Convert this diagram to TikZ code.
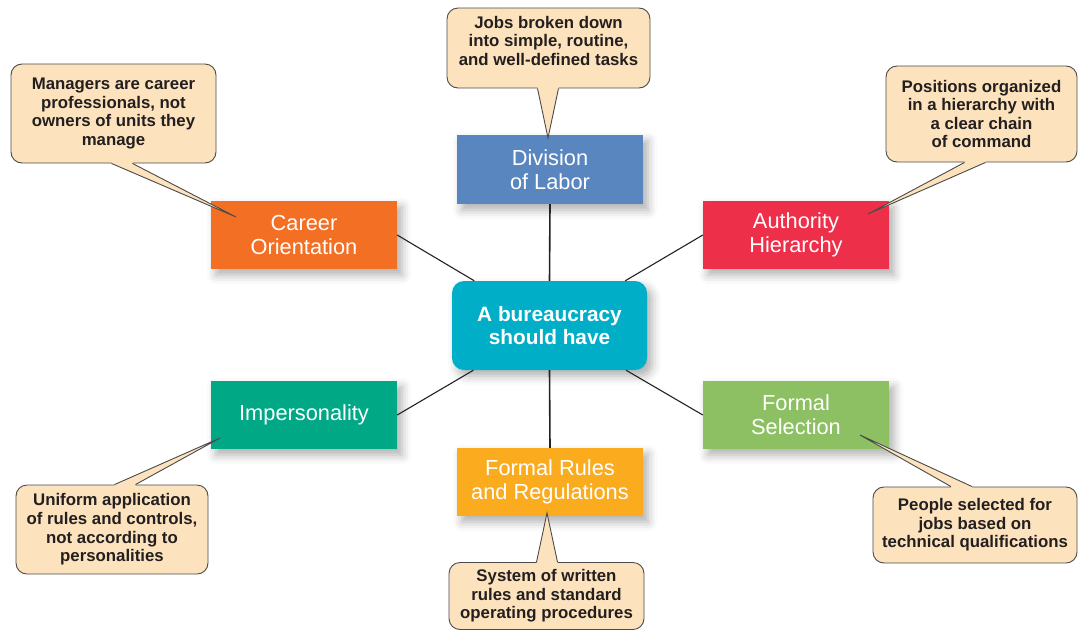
\documentclass[tikz,border=0pt]{standalone}
\usepackage{fontspec}
\setmainfont{Liberation Sans}
\usetikzlibrary{calc,shadows.blur}
\definecolor{cDiv}{HTML}{5A86BF}
\definecolor{cCar}{HTML}{F26F23}
\definecolor{cAut}{HTML}{EE2F4A}
\definecolor{cCen}{HTML}{00AEC7}
\definecolor{cImp}{HTML}{00A886}
\definecolor{cRul}{HTML}{FBAB1E}
\definecolor{cSel}{HTML}{8CC063}
\definecolor{callfill}{HTML}{FDE3BD}
\definecolor{callline}{HTML}{4A4A4A}
\definecolor{calltext}{HTML}{231F20}
\definecolor{linkc}{HTML}{222222}
\newcommand\ptrbottom[3]{% callout node, x offset, tip
  \fill[callfill] ($(#1.south)+(#2-10.5,0)$) -- (#3) -- ($(#1.south)+(#2+10.5,0)$) -- ($(#1.south)+(#2+10.5,-2)$) -- ($(#1.south)+(#2-10.5,-2)$) -- cycle;
  \draw[callline,line width=0.9pt,line join=miter] ($(#1.south)+(#2-10.5,0)$) -- (#3) -- ($(#1.south)+(#2+10.5,0)$);}
\newcommand\ptrtop[3]{%
  \fill[callfill] ($(#1.north)+(#2-10.5,0)$) -- (#3) -- ($(#1.north)+(#2+10.5,0)$) -- ($(#1.north)+(#2+10.5,2)$) -- ($(#1.north)+(#2-10.5,2)$) -- cycle;
  \draw[callline,line width=0.9pt,line join=miter] ($(#1.north)+(#2-10.5,0)$) -- (#3) -- ($(#1.north)+(#2+10.5,0)$);}
\begin{document}
\begin{tikzpicture}[x=1pt,y=-1pt,
  boxstyle/.style={minimum width=186pt, minimum height=68pt, inner sep=0pt, text=white, align=center,
    font=\fontsize{21.8}{24}\selectfont,
    blur shadow={shadow xshift=5pt, shadow yshift=-6pt, shadow blur radius=9pt, shadow opacity=32}},
  callout/.style={draw=callline, line width=0.9pt, fill=callfill, rounded corners=11pt, inner sep=0pt,
    text=calltext, align=center, font=\bfseries\fontsize{16.8}{18.6}\selectfont},
  link/.style={draw=linkc, line width=1.1pt}]
\useasboundingbox (0,0) rectangle (1081,630);
% main boxes
\node[boxstyle, fill=cDiv, minimum height=69pt] (div) at (550,169.5) {Division\\of Labor};
\node[boxstyle, fill=cCar] (car) at (304,235) {Career\\Orientation};
\node[boxstyle, fill=cAut] (aut) at (796,235) {Authority\\Hierarchy};
\node[boxstyle, fill=cImp] (imp) at (304,415) {Impersonality};
\node[boxstyle, fill=cRul] (rul) at (550,482) {Formal Rules\\and Regulations};
\node[boxstyle, fill=cSel] (sel) at (796,415) {Formal\\Selection};
\node[boxstyle, fill=cCen, minimum width=195pt, minimum height=89pt, rounded corners=12pt,
  font=\bfseries\fontsize{20.8}{23}\selectfont] (cen) at (549.5,325.5) {A bureaucracy\\should have};
% connectors
\draw[link, line width=1.6pt] (cen.north) -- (div.south);
\draw[link, line width=1.6pt] (cen.south) -- (rul.north);
\draw[link] (car.east) -- (cen);
\draw[link] (aut.west) -- (cen);
\draw[link] (imp.east) -- (cen);
\draw[link] (sel.west) -- (cen);
% callouts
\node[callout, minimum width=203pt, minimum height=80pt] (kDiv) at (548.5,48) {Jobs broken down\\into simple, routine,\\and well-defined tasks\\[-4pt]};
\node[callout, minimum width=205pt, minimum height=99pt] (kCar) at (113.5,113.5) {Managers are career\\professionals, not\\owners of units they\\manage};
\node[callout, minimum width=191pt, minimum height=96pt] (kAut) at (981.5,114) {Positions organized\\in a hierarchy with\\a clear chain\\of command};
\node[callout, minimum width=192pt, minimum height=89pt] (kImp) at (112,529.5) {Uniform application\\of rules and controls,\\not according to\\personalities};
\node[callout, minimum width=204pt, minimum height=76pt] (kSel) at (975,525) {People selected for\\jobs based on\\technical qualifications};
\node[callout, minimum width=195pt, minimum height=67pt] (kRul) at (546.5,596) {System of written\\rules and standard\\operating procedures};
% pointer tips
\coordinate (tDiv) at (548,138);
\coordinate (tCar) at (236,217);
\coordinate (tAut) at (868,214);
\coordinate (tImp) at (220,438);
\coordinate (tSel) at (860,435);
\coordinate (tRul) at (547,513);
\ptrbottom{kDiv}{-0.5}{tDiv}
\ptrbottom{kCar}{8.5}{tCar}
\ptrbottom{kAut}{-6.5}{tAut}
\ptrtop{kImp}{13}{tImp}
\ptrtop{kSel}{-13.5}{tSel}
\ptrtop{kRul}{0.5}{tRul}
\end{tikzpicture}
\end{document}
